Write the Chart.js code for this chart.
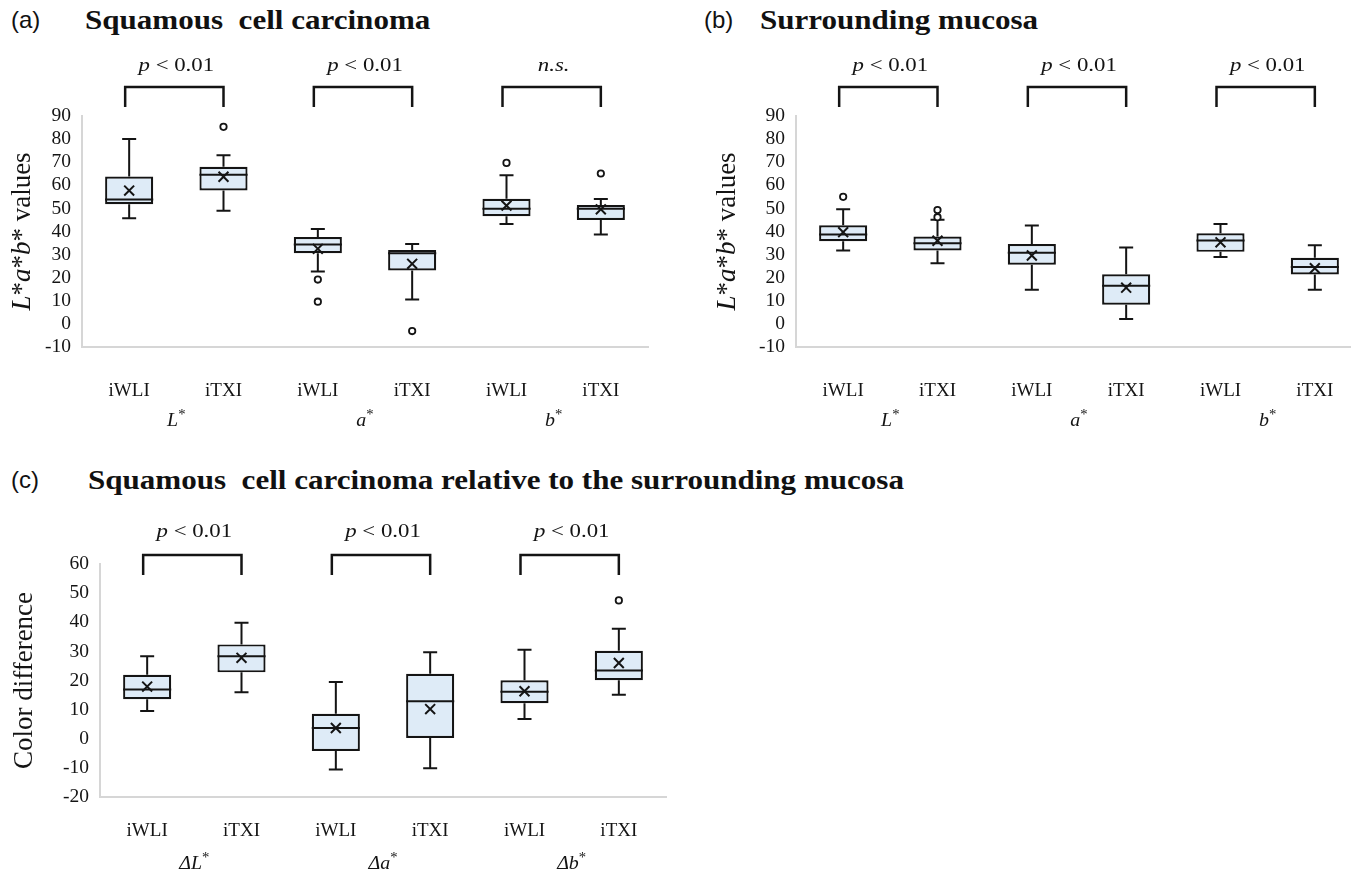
<!DOCTYPE html>
<html>
<head>
<meta charset="utf-8">
<script src="https://cdn.jsdelivr.net/npm/chart.js@4.4.0/dist/chart.umd.min.js"></script>
<style>
  html, body { margin: 0; padding: 0; background: #fff; overflow: hidden; width: 1351px; height: 877px; }
  .abs { position: absolute; white-space: pre; line-height: 1; color: #111; }
  .tag { font-family: "Liberation Sans", Arial, sans-serif; font-size: 24px; }
  .ttl { font-family: "Liberation Serif", "Times New Roman", serif; font-weight: bold; font-size: 27px; transform: scaleX(1.15); transform-origin: left center; }
  canvas { position: absolute; }
</style>
</head>
<body>
<div class="abs tag" style="left:11px;top:8px">(a)</div>
<div class="abs ttl" style="left:85px;top:7px">Squamous  cell carcinoma</div>
<div class="abs tag" style="left:704px;top:8px">(b)</div>
<div class="abs ttl" style="left:760px;top:7px">Surrounding mucosa</div>
<div class="abs tag" style="left:11px;top:468px">(c)</div>
<div class="abs ttl" style="left:88px;top:467px">Squamous  cell carcinoma relative to the surrounding mucosa</div>

<canvas id="chartA" width="680" height="440" style="left:0px;top:0px;width:680px;height:440px"></canvas>
<canvas id="chartB" width="700" height="440" style="left:680px;top:0px;width:700px;height:440px"></canvas>
<canvas id="chartC" width="700" height="417" style="left:0px;top:460px;width:700px;height:417px"></canvas>

<script>
// ---------- data ----------
const categories = ['iWLI', 'iTXI', 'iWLI', 'iTXI', 'iWLI', 'iTXI'];
const groupsAB = ['L*', 'a*', 'b*'];
const groupsC = ['ΔL*', 'Δa*', 'Δb*'];
const pLabelsA = ['p < 0.01', 'p < 0.01', 'n.s.'];
const pLabelsB = ['p < 0.01', 'p < 0.01', 'p < 0.01'];
const pLabelsC = ['p < 0.01', 'p < 0.01', 'p < 0.01'];
const yTicksAB = [-10, 0, 10, 20, 30, 40, 50, 60, 70, 80, 90];
const yTicksC = [-20, -10, 0, 10, 20, 30, 40, 50, 60];

// (a) Squamous cell carcinoma
const aMin    = [45.7, 49.0, 22.7, 10.6, 43.3, 38.7];
const aQ1     = [51.8, 57.8, 30.6, 23.1, 46.6, 45.0];
const aMedian = [53.8, 64.6, 34.4, 30.6, 49.8, 49.8];
const aQ3     = [63.8, 68.0, 37.6, 32.0, 54.2, 51.5];
const aMax    = [80.0, 73.0, 41.1, 34.6, 64.4, 54.1];
const aMean   = [57.7, 63.7, 32.5, 26.0, 51.2, 49.6];
const aOutliers = [[], [85.3], [19.2, 9.6], [-3.1], [69.7], [65.1]];

// (b) Surrounding mucosa
const bMin    = [31.8, 26.3, 14.8, 2.1, 29.0, 14.8];
const bQ1     = [35.8, 31.8, 25.6, 8.3, 31.2, 21.4];
const bMedian = [38.7, 34.9, 30.8, 16.5, 36.1, 24.6];
const bQ3     = [42.7, 37.8, 34.6, 21.5, 39.2, 28.6];
const bMax    = [49.6, 45.1, 42.6, 33.1, 43.3, 34.0];
const bMean   = [39.7, 36.0, 29.6, 15.7, 35.3, 24.1];
const bOutliers = [[55.0], [49.3, 46.2], [], [], [], []];

// (c) Squamous cell carcinoma relative to the surrounding mucosa
const cMin    = [9.5, 16.0, -10.6, -10.1, 6.8, 15.1];
const cQ1     = [13.6, 22.8, -4.2, 0.3, 12.2, 20.1];
const cMedian = [16.9, 28.3, 3.7, 12.9, 16.1, 23.4];
const cQ3     = [22.0, 32.4, 8.6, 22.3, 20.1, 30.2];
const cMax    = [28.3, 39.8, 19.5, 29.7, 30.6, 37.8];
const cMean   = [17.9, 27.8, 3.7, 10.2, 16.3, 26.0];
const cOutliers = [[], [], [], [], [], [47.5]];

// ---------- helpers ----------
const SERIF = '"Liberation Serif", "Times New Roman", serif';
const INK = '#141414';
// unique internal keys so points can be placed on the right category
const catKeys = categories.map((c, i) => i + '|' + c);

function drawSegs(ctx, segs, cx, cy, sx) {
  const fontOf = s => (s.it ? 'italic ' : '') + s.size + 'px ' + SERIF;
  let total = 0;
  segs.forEach(s => { ctx.font = fontOf(s); total += ctx.measureText(s.t).width; });
  ctx.save();
  ctx.translate(cx, cy);
  ctx.scale(sx || 1, 1);
  let x = -total / 2;
  ctx.textAlign = 'left';
  ctx.textBaseline = 'middle';
  segs.forEach(s => {
    ctx.font = fontOf(s);
    ctx.fillText(s.t, x, (s.dy || 0));
    x += ctx.measureText(s.t).width;
  });
  ctx.restore();
}

function pSegs(label, size) {
  if (label.startsWith('p ')) return [{t: 'p', it: true, size}, {t: label.slice(1), it: false, size}];
  return [{t: label, it: true, size}];
}
function groupSegs(label, size) {
  const main = label.replace('*', '');
  return [{t: main, it: true, size}, {t: '*', it: false, size: Math.round(size * 0.72), dy: -6}];
}
function titleSegs(title, size) {
  if (title === 'Lab') {
    return [
      {t: 'L', it: true, size}, {t: '*', it: false, size},
      {t: 'a', it: true, size}, {t: '*', it: false, size},
      {t: 'b', it: true, size}, {t: '*', it: false, size},
      {t: ' values', it: false, size}
    ];
  }
  return [{t: title, it: false, size}];
}

const boxPlugin = {
  id: 'boxExtras',
  beforeDatasetsDraw(chart, args, o) {
    const {ctx, scales: {x, y}} = chart;
    const st = o.stats;
    ctx.save();
    ctx.strokeStyle = INK;
    ctx.lineWidth = 2;
    st.min.forEach((_, i) => {
      const cx = x.getPixelForValue(i);
      const cap = o.capHalf;
      const yMax = y.getPixelForValue(st.max[i]), yQ3 = y.getPixelForValue(st.q3[i]);
      const yMin = y.getPixelForValue(st.min[i]), yQ1 = y.getPixelForValue(st.q1[i]);
      ctx.beginPath();
      ctx.moveTo(cx, yQ3); ctx.lineTo(cx, yMax);
      ctx.moveTo(cx - cap, yMax); ctx.lineTo(cx + cap, yMax);
      ctx.moveTo(cx, yQ1); ctx.lineTo(cx, yMin);
      ctx.moveTo(cx - cap, yMin); ctx.lineTo(cx + cap, yMin);
      ctx.stroke();
    });
    ctx.restore();
  },
  afterDatasetsDraw(chart, args, o) {
    const {ctx, scales: {y}} = chart;
    const st = o.stats;
    const meta = chart.getDatasetMeta(0);
    ctx.save();
    ctx.strokeStyle = INK;
    ctx.lineWidth = 2;
    meta.data.forEach((bar, i) => {
      const half = bar.width / 2;
      const ym = y.getPixelForValue(st.median[i]);
      ctx.beginPath();
      ctx.moveTo(bar.x - half, ym); ctx.lineTo(bar.x + half, ym);
      ctx.stroke();
    });
    ctx.restore();
  },
  afterDraw(chart, args, o) {
    const {ctx, chartArea, scales: {x}} = chart;
    ctx.save();
    ctx.fillStyle = INK;
    ctx.strokeStyle = INK;
    o.pLabels.forEach((lab, g) => {
      const xl = x.getPixelForValue(2 * g) - 4;
      const xr = x.getPixelForValue(2 * g + 1);
      const yt = chartArea.top + o.bracketTop;
      const yb = chartArea.top + o.bracketBottom;
      ctx.lineWidth = 2.5;
      ctx.beginPath();
      ctx.moveTo(xl, yb); ctx.lineTo(xl, yt); ctx.lineTo(xr, yt); ctx.lineTo(xr, yb);
      ctx.stroke();
      drawSegs(ctx, pSegs(lab, o.pSize), (xl + xr) / 2 + 2, chartArea.top + o.pY, 1.2);
    });
    o.groups.forEach((lab, g) => {
      const cx = (x.getPixelForValue(2 * g) + x.getPixelForValue(2 * g + 1)) / 2;
      drawSegs(ctx, groupSegs(lab, o.groupSize), cx, chartArea.bottom + o.groupY, 1.05);
    });
    ctx.translate(o.yTitleX, (chartArea.top + chartArea.bottom) / 2 + o.yTitleDy);
    ctx.rotate(-Math.PI / 2);
    drawSegs(ctx, titleSegs(o.yTitle, o.yTitleSize), 0, 0, 1);
    ctx.restore();
  }
};

function buildChart(id, st, ticks, opt) {
  const outlierPts = [];
  st.outliers.forEach((arr, i) => arr.forEach(v => outlierPts.push({x: catKeys[i], y: v})));
  return new Chart(document.getElementById(id), {
    type: 'bar',
    data: {
      labels: catKeys,
      datasets: [
        {
          type: 'bar',
          data: st.q1.map((v, i) => [v, st.q3[i]]),
          backgroundColor: '#deebf7',
          borderColor: INK,
          borderWidth: 2.2,
          borderSkipped: false,
          barPercentage: 0.51,
          categoryPercentage: 1,
          order: 3
        },
        {
          type: 'line',
          data: st.mean.map((v, i) => ({x: catKeys[i], y: v})),
          showLine: false,
          pointStyle: 'crossRot',
          pointRadius: 7,
          pointBorderWidth: 2,
          pointBorderColor: INK,
          borderColor: INK,
          order: 1
        },
        {
          type: 'line',
          data: outlierPts,
          showLine: false,
          pointStyle: 'circle',
          pointRadius: 3.2,
          pointBorderWidth: 1.8,
          pointBorderColor: INK,
          pointBackgroundColor: '#fff',
          borderColor: INK,
          order: 0
        }
      ]
    },
    options: {
      responsive: false,
      devicePixelRatio: 1,
      animation: false,
      events: [],
      layout: { padding: { top: opt.top, right: opt.right, bottom: 0, left: 0 } },
      plugins: {
        legend: { display: false },
        tooltip: { enabled: false },
        title: { display: false },
        boxExtras: Object.assign({ stats: st, capHalf: 7, pSize: 19, groupSize: 19, yTitleSize: 27 }, opt.extras)
      },
      scales: {
        x: {
          grid: { display: false, drawTicks: false },
          border: { display: true, color: '#d6d6d6', width: 2 },
          ticks: { padding: opt.xPad, color: INK, font: { family: SERIF, size: 19 }, maxRotation: 0, autoSkip: false,
                   callback: (v, i) => categories[i] },
          afterFit: s => { s.height = opt.xHeight; }
        },
        y: {
          min: ticks[0],
          max: ticks[ticks.length - 1],
          grid: { display: false, drawTicks: false },
          border: { display: true, color: '#d6d6d6', width: 2 },
          ticks: { stepSize: ticks[1] - ticks[0], autoSkip: false, padding: 11, color: INK, font: { family: SERIF, size: 19.5 } },
          afterFit: s => { s.width = opt.yWidth; }
        }
      }
    },
    plugins: [boxPlugin]
  });
}

buildChart('chartA',
  {min: aMin, q1: aQ1, median: aMedian, q3: aQ3, max: aMax, mean: aMean, outliers: aOutliers},
  yTicksAB,
  { top: 116, right: 32, yWidth: 82, xHeight: 93, xPad: 33,
    extras: { pLabels: pLabelsA, groups: groupsAB, bracketTop: -29, bracketBottom: -9, pY: -50, groupY: 74, yTitle: 'Lab', yTitleX: 23, yTitleDy: 0 } });

buildChart('chartB',
  {min: bMin, q1: bQ1, median: bMedian, q3: bQ3, max: bMax, mean: bMean, outliers: bOutliers},
  yTicksAB,
  { top: 116, right: 18, yWidth: 116, xHeight: 93, xPad: 33,
    extras: { pLabels: pLabelsB, groups: groupsAB, bracketTop: -29, bracketBottom: -9, pY: -50, groupY: 74, yTitle: 'Lab', yTitleX: 48, yTitleDy: 0 } });

buildChart('chartC',
  {min: cMin, q1: cQ1, median: cMedian, q3: cQ3, max: cMax, mean: cMean, outliers: cOutliers},
  yTicksC,
  { top: 104, right: 34, yWidth: 100, xHeight: 80, xPad: 23,
    extras: { pLabels: pLabelsC, groups: groupsC, bracketTop: -9, bracketBottom: 11, pY: -32, groupY: 67, yTitle: 'Color difference', yTitleX: 25, yTitleDy: 0 } });
</script>
</body>
</html>
